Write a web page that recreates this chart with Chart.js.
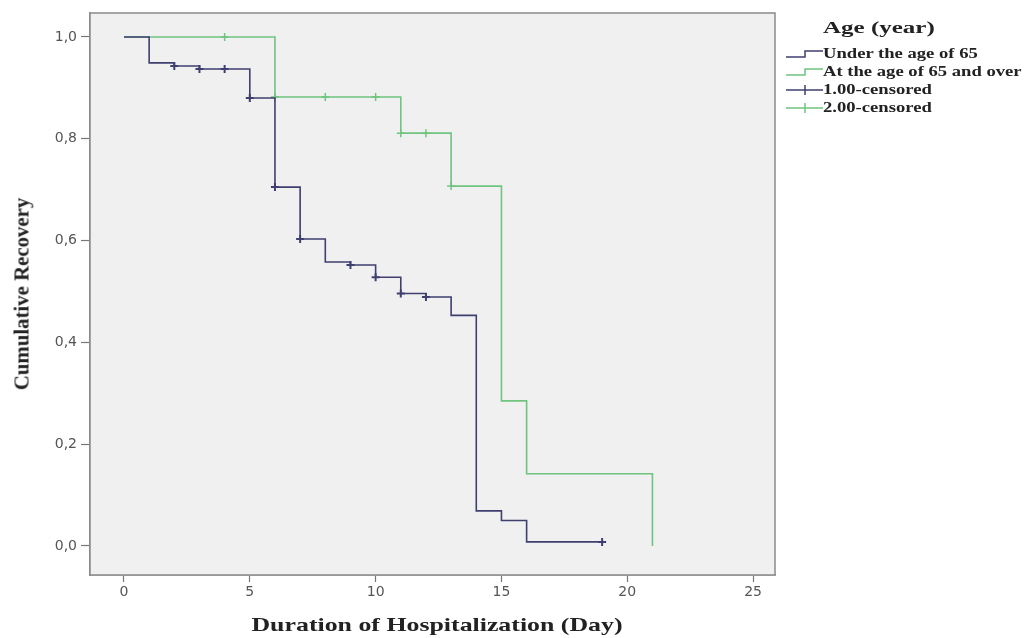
<!doctype html>
<html>
<head>
<script src="https://cdn.jsdelivr.net/npm/chart.js@4.4.0/dist/chart.umd.min.js"></script>
<style>
  body { margin: 0; background: #fff; }
  #wrap { position: absolute; left: 0; top: 0; width: 1025px; height: 638px; }
  .legend { position: absolute; left: 786px; top: 18px; font-family: "Liberation Serif", serif; font-weight: bold; color: #222; }
  .legend .ttl { font-size: 17px; margin-left: 37px; margin-bottom: 7px; transform: scaleX(1.47); transform-origin: left center; }
  .legend .row { height: 18px; display: flex; align-items: center; }
  .legend .row span { font-size: 14px; display: inline-block; transform: scaleX(1.33); transform-origin: left center; white-space: nowrap; }
  .legend svg { width: 37px; height: 18px; flex: none; }
  .xt { position: absolute; left: 437px; top: 625px; transform: translate(-50%, -50%) scaleX(1.36); white-space: nowrap; font: bold 19px "Liberation Serif", serif; color: #222; }
  .yt { position: absolute; left: 22px; top: 294px; transform: translate(-50%, -50%) rotate(-90deg) scaleX(1.04); white-space: nowrap; font: bold 20px "Liberation Serif", serif; color: #222; }
</style>
</head>
<body>
<div id="wrap"><canvas id="km" width="1025" height="638"></canvas></div>
<div class="yt">Cumulative Recovery</div>
<div class="xt">Duration of Hospitalization (Day)</div>
<div class="legend">
  <div class="ttl">Age (year)</div>
  <div class="row"><svg><polyline points="0,12 19,12 19,6 37,6" fill="none" stroke="#3f3f70" stroke-width="1.5"/></svg><span>Under the age of 65</span></div>
  <div class="row"><svg><polyline points="0,12 19,12 19,6 37,6" fill="none" stroke="#6fc47f" stroke-width="1.5"/></svg><span>At the age of 65 and over</span></div>
  <div class="row"><svg><line x1="0" y1="9" x2="37" y2="9" stroke="#3f3f70" stroke-width="1.5"/><line x1="19" y1="4" x2="19" y2="14" stroke="#3f3f70" stroke-width="1.5"/></svg><span>1.00-censored</span></div>
  <div class="row"><svg><line x1="0" y1="9" x2="37" y2="9" stroke="#6fc47f" stroke-width="1.5"/><line x1="19" y1="4" x2="19" y2="14" stroke="#6fc47f" stroke-width="1.5"/></svg><span>2.00-censored</span></div>
</div>
<script>
// group 1: under 65
var youngDays = [0, 1, 2, 3, 5, 6, 7, 8, 9, 10, 11, 12, 13, 14, 15, 16, 19];
var youngSurv = [1.0, 0.949, 0.943, 0.937, 0.880, 0.705, 0.603, 0.558, 0.552, 0.528, 0.496, 0.489, 0.453, 0.069, 0.050, 0.008, 0.008];
var youngCensDays = [2, 3, 4, 5, 6, 7, 9, 10, 11, 12, 19];
var youngCensSurv = [0.943, 0.937, 0.937, 0.880, 0.705, 0.603, 0.552, 0.528, 0.496, 0.489, 0.008];

// group 2: 65 and over
var oldDays = [0, 6, 11, 13, 15, 16, 21];
var oldSurv = [1.0, 0.882, 0.811, 0.707, 0.285, 0.142, 0.0];
var oldCensDays = [4, 6, 8, 10, 11, 12, 13];
var oldCensSurv = [1.0, 0.882, 0.882, 0.882, 0.811, 0.811, 0.707];

var xTicks = [0, 5, 10, 15, 20, 25];
var yTicks = [0, 0.2, 0.4, 0.6, 0.8, 1.0];

var blue = '#3f3f70', green = '#6fc47f';

function pts(xs, ys) {
  var out = [];
  for (var i = 0; i < xs.length; i++) out.push({x: xs[i], y: ys[i]});
  return out;
}

var frame = {
  id: 'frame',
  beforeDatasetsDraw: function(chart) {
    var a = chart.chartArea, c = chart.ctx;
    c.save();
    c.fillStyle = '#f0f0f0';
    c.fillRect(a.left, a.top, a.right - a.left, a.bottom - a.top);
    c.strokeStyle = '#8a8a8a';
    c.lineWidth = 1.5;
    c.strokeRect(a.left, a.top, a.right - a.left, a.bottom - a.top);
    c.restore();
  }
};

new Chart(document.getElementById('km'), {
  type: 'scatter',
  data: {
    datasets: [
      { data: pts(youngDays, youngSurv), showLine: true, stepped: 'before', borderColor: blue, borderWidth: 1.6, pointRadius: 0 },
      { data: pts(oldDays, oldSurv), showLine: true, stepped: 'before', borderColor: green, borderWidth: 1.6, pointRadius: 0 },
      { data: pts(youngCensDays, youngCensSurv), pointStyle: 'cross', pointRadius: 4, borderColor: blue, borderWidth: 2 },
      { data: pts(oldCensDays, oldCensSurv), pointStyle: 'cross', pointRadius: 4, borderColor: green, borderWidth: 1.5 }
    ]
  },
  options: {
    responsive: false,
    animation: false,
    layout: { padding: { top: 13, right: 250, left: 0, bottom: 0 } },
    plugins: { legend: { display: false }, tooltip: { enabled: false } },
    scales: {
      x: {
        type: 'linear', min: -1.35, max: 25.87,
        afterBuildTicks: function(s) { s.ticks = xTicks.map(function(v) { return {value: v}; }); },
        afterFit: function(s) { s.height = 63; },
        ticks: { color: '#555', font: { family: 'DejaVu Sans', size: 14 }, padding: 2 },
        grid: { drawOnChartArea: false, tickLength: 7, color: '#777', tickWidth: 1.2 },
        border: { color: '#8a8a8a', width: 1.5 }
      },
      y: {
        min: -0.057, max: 1.047,
        afterBuildTicks: function(s) { s.ticks = yTicks.map(function(v) { return {value: v}; }); },
        afterFit: function(s) { s.width = 90; },
        ticks: { color: '#555', font: { family: 'DejaVu Sans', size: 14 }, padding: 4,
          callback: function(v) { return v.toFixed(1).replace('.', ','); } },
        grid: { drawOnChartArea: false, tickLength: 9, color: '#777', tickWidth: 1.2 },
        border: { color: '#8a8a8a', width: 1.5 }
      }
    }
  },
  plugins: [frame]
});
</script>
</body>
</html>
